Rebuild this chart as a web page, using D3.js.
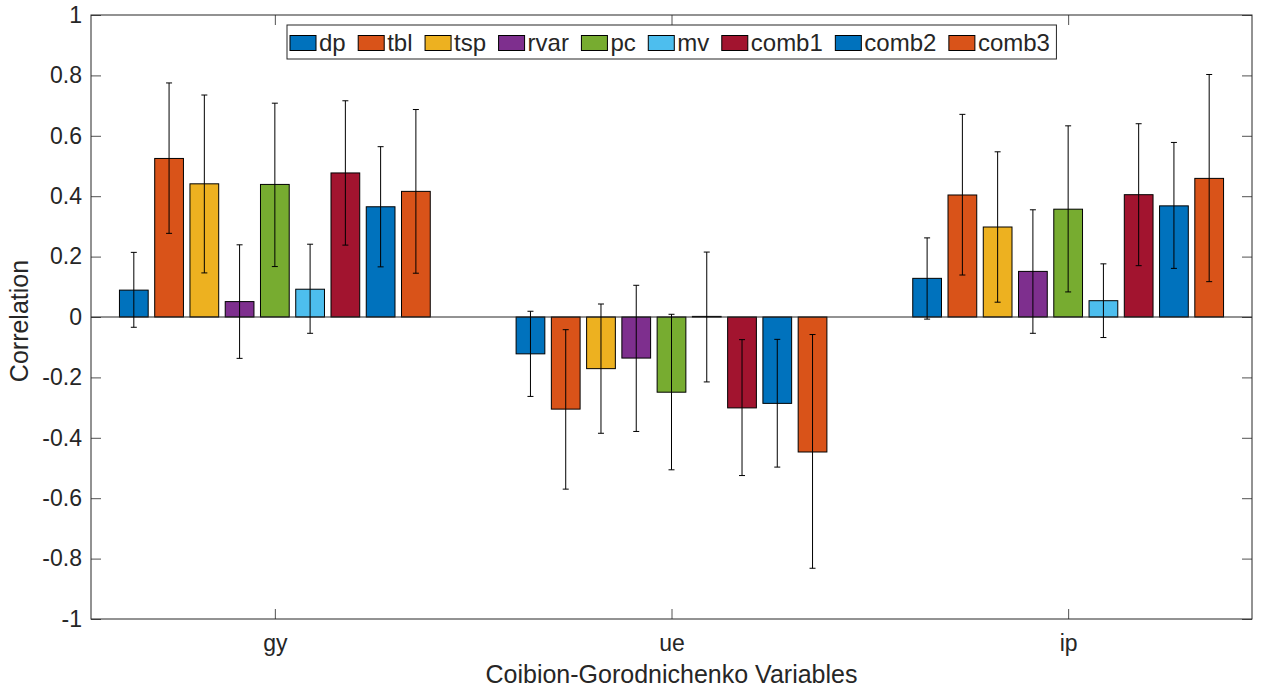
<!DOCTYPE html>
<html>
<head>
<meta charset="utf-8">
<script src="https://cdn.jsdelivr.net/npm/d3@7"></script>
<style>
body { margin: 0; background: #fff; }
text { font-family: "Liberation Sans", Arial, sans-serif; fill: #262626; }
</style>
</head>
<body>
<svg id="chart" width="1261" height="690"></svg>
<script>
var groups = ["gy", "ue", "ip"];
var seriesNames = ["dp", "tbl", "tsp", "rvar", "pc", "mv", "comb1", "comb2", "comb3"];
var colors = ["#0072BD", "#D95319", "#EDB120", "#7E2F8E", "#77AC30", "#4DBEEE", "#A2142F", "#0072BD", "#D95319"];

// bar heights, one row per group (gy, ue, ip)
var values = [
  [0.089, 0.525, 0.441, 0.051, 0.439, 0.092, 0.477, 0.365, 0.416],
  [-0.122, -0.305, -0.171, -0.136, -0.249, 0.002, -0.301, -0.286, -0.447],
  [0.128, 0.404, 0.298, 0.151, 0.357, 0.054, 0.405, 0.368, 0.459]
];
// error bar upper / lower ends
var errHigh = [
  [0.214, 0.775, 0.735, 0.239, 0.708, 0.241, 0.716, 0.564, 0.687],
  [0.019, -0.042, 0.043, 0.105, 0.009, 0.215, -0.075, -0.074, -0.058],
  [0.262, 0.671, 0.547, 0.355, 0.633, 0.176, 0.640, 0.578, 0.803]
];
var errLow = [
  [-0.034, 0.277, 0.146, -0.137, 0.167, -0.054, 0.238, 0.166, 0.145],
  [-0.263, -0.570, -0.385, -0.379, -0.506, -0.215, -0.525, -0.497, -0.832],
  [-0.007, 0.139, 0.049, -0.054, 0.083, -0.068, 0.170, 0.161, 0.117]
];
var yTicks = [-1, -0.8, -0.6, -0.4, -0.2, 0, 0.2, 0.4, 0.6, 0.8, 1];

var svg = d3.select("#chart");
var mLeft = 91, mRight = 1252, mTop = 15, mBottom = 619;

var x = d3.scaleLinear().domain([0.5365, 3.4635]).range([mLeft, mRight]);
var y = d3.scaleLinear().domain([-1, 1]).range([mBottom, mTop]);

var slot = 0.8 / seriesNames.length;
var barW = slot * 0.815;

// axes
var yAxisL = d3.axisLeft(y).tickValues(yTicks).tickSize(-10).tickPadding(9)
  .tickFormat(function(d) { return String(+d.toFixed(1)); });
var yAxisR = d3.axisRight(y).tickValues(yTicks).tickSize(-10).tickFormat("");
var xAxisB = d3.axisBottom(x).tickValues([1, 2, 3]).tickSize(-10).tickPadding(16)
  .tickFormat(function(d) { return groups[d - 1]; });
var xAxisT = d3.axisTop(x).tickValues([1, 2, 3]).tickSize(-10).tickFormat("");

function styleAxis(g) {
  g.select("path.domain").remove();
  g.selectAll(".tick line").attr("stroke", "#262626").attr("stroke-width", 0.8);
  g.selectAll(".tick text").style("font-size", "23px").style("font-family", "Liberation Sans, Arial, sans-serif").attr("fill", "#262626");
}

svg.append("g").attr("transform", "translate(" + mLeft + ",0)").call(yAxisL).call(styleAxis);
svg.append("g").attr("transform", "translate(" + mRight + ",0)").call(yAxisR).call(styleAxis);
svg.append("g").attr("transform", "translate(0," + mBottom + ")").call(xAxisB).call(styleAxis);
svg.append("g").attr("transform", "translate(0," + mTop + ")").call(xAxisT).call(styleAxis);
svg.append("rect").attr("x", mLeft).attr("y", mTop).attr("width", mRight - mLeft).attr("height", mBottom - mTop)
  .attr("fill", "none").attr("stroke", "#262626").attr("stroke-width", 1);

// bars
var plot = svg.append("g");
groups.forEach(function(gname, gi) {
  seriesNames.forEach(function(s, si) {
    var cx = (gi + 1) + (si - 4) * slot;
    var v = values[gi][si];
    plot.append("rect")
      .attr("x", x(cx - barW / 2))
      .attr("width", x(cx + barW / 2) - x(cx - barW / 2))
      .attr("y", y(Math.max(v, 0)))
      .attr("height", Math.abs(y(v) - y(0)))
      .attr("fill", colors[si])
      .attr("stroke", "#000")
      .attr("stroke-width", 1);
  });
});

// baseline
plot.append("line").attr("x1", mLeft).attr("x2", mRight).attr("y1", y(0)).attr("y2", y(0))
  .attr("stroke", "#262626").attr("stroke-width", 1);

// error bars
groups.forEach(function(gname, gi) {
  seriesNames.forEach(function(s, si) {
    var cx = x((gi + 1) + (si - 4) * slot);
    var hi = y(errHigh[gi][si]), lo = y(errLow[gi][si]);
    var eg = plot.append("g").attr("stroke", "#000").attr("stroke-width", 1);
    eg.append("line").attr("x1", cx).attr("x2", cx).attr("y1", hi).attr("y2", lo);
    eg.append("line").attr("x1", cx - 3).attr("x2", cx + 3).attr("y1", hi).attr("y2", hi);
    eg.append("line").attr("x1", cx - 3).attr("x2", cx + 3).attr("y1", lo).attr("y2", lo);
  });
});

// axis labels
svg.append("text").attr("x", (mLeft + mRight) / 2).attr("y", 683).attr("text-anchor", "middle")
  .style("font-size", "25px").text("Coibion-Gorodnichenko Variables");
svg.append("text").attr("transform", "translate(28," + (y(0) + 4) + ") rotate(-90)").attr("text-anchor", "middle")
  .style("font-size", "25px").text("Correlation");

// legend
var legend = svg.append("g");
var legBox = legend.append("rect").attr("x", 287).attr("y", 25).attr("width", 770).attr("height", 34)
  .attr("fill", "#fff").attr("stroke", "#262626").attr("stroke-width", 1);
var lx = 290;
seriesNames.forEach(function(s, si) {
  legend.append("rect").attr("x", lx).attr("y", 35.5).attr("width", 26).attr("height", 15)
    .attr("fill", colors[si]).attr("stroke", "#000").attr("stroke-width", 1);
  var t = legend.append("text").attr("x", lx + 29).attr("y", 50.5).style("font-size", "24px").attr("fill", "#000").text(s);
  lx += 29 + t.node().getComputedTextLength() + 12.5;
});
legBox.attr("width", lx - 287 - 6);
</script>
</body>
</html>
